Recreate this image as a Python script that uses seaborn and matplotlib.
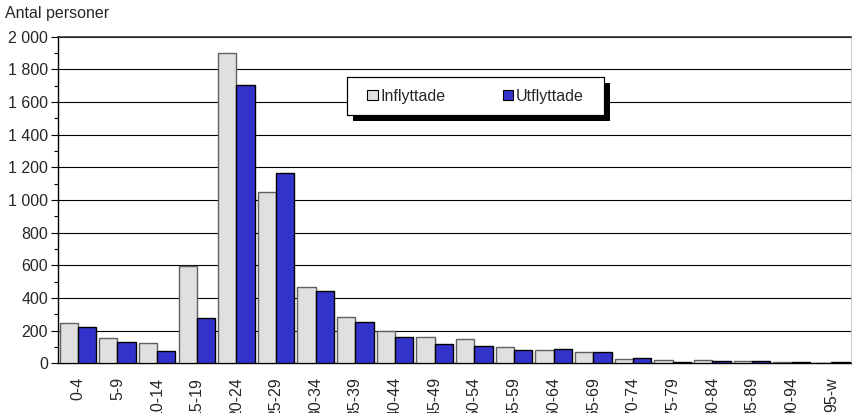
import matplotlib
matplotlib.use('Agg')
import matplotlib.pyplot as plt
import matplotlib.ticker as mticker
from matplotlib.patches import Patch, Rectangle
import pandas as pd
import seaborn as sns

# Åldersgrupper och antal in- och utflyttade
aldersgrupper = ['0-4', '5-9', '10-14', '15-19', '20-24', '25-29', '30-34', '35-39', '40-44',
                 '45-49', '50-54', '55-59', '60-64', '65-69', '70-74', '75-79', '80-84',
                 '85-89', '90-94', '95-w']
inflyttade = [249, 153, 126, 598, 1898, 1047, 469, 285, 200, 159, 149, 98, 79, 67, 28, 20, 18, 13, 10, 2]
utflyttade = [220, 129, 73, 279, 1702, 1163, 441, 251, 159, 116, 106, 84, 86, 69, 34, 8, 15, 16, 10, 6]

df = pd.DataFrame({
    'alder': aldersgrupper * 2,
    'antal': inflyttade + utflyttade,
    'typ': ['Inflyttade'] * len(aldersgrupper) + ['Utflyttade'] * len(aldersgrupper),
})

sns.set_style('white')
plt.rcParams['font.family'] = ['Liberation Sans', 'DejaVu Sans']
fs = 11.5

farger = {'Inflyttade': '#E0E0E0', 'Utflyttade': '#3333CC'}
kanter = {'Inflyttade': '#606060', 'Utflyttade': '#000000'}

fig = plt.figure(figsize=(8.52, 4.13), dpi=100)
ax = fig.add_axes([0.068, 0.1203, 0.931, 0.7908])

sns.barplot(data=df, x='alder', y='antal', hue='typ', palette=farger, width=0.92,
            saturation=1, legend=False, ax=ax, zorder=3)

for container, typ in zip(ax.containers, ['Inflyttade', 'Utflyttade']):
    for bar in container:
        bar.set_edgecolor(kanter[typ])
        bar.set_linewidth(1.0)

ax.set_ylim(0, 2000)
ax.set_xlim(-0.5, len(aldersgrupper) - 0.5)
ax.yaxis.set_major_locator(mticker.MultipleLocator(200))
ax.yaxis.set_minor_locator(mticker.MultipleLocator(100))
ax.yaxis.set_major_formatter(mticker.FuncFormatter(lambda v, p: f'{int(v):,}'.replace(',', ' ')))
ax.grid(axis='y', color='black', linewidth=0.8, zorder=0)
ax.set_axisbelow(True)

ax.tick_params(axis='y', which='major', left=True, length=5, width=0.8, color='black',
               labelsize=fs, pad=2)
ax.tick_params(axis='y', which='minor', left=True, length=3, width=0.8, color='black')
ax.tick_params(axis='x', length=0, labelsize=fs, pad=10)
plt.setp(ax.get_xticklabels(), rotation=90, va='top')

ax.set_xlabel('')
ax.set_ylabel('')

for s in ['left', 'bottom']:
    ax.spines[s].set_color('black')
    ax.spines[s].set_linewidth(1.0)
ax.spines['top'].set_color('#333333')
ax.spines['top'].set_linewidth(1.2)
ax.spines['right'].set_color('#cccccc')
ax.spines['right'].set_linewidth(0.8)

# Teckenförklaring med egen ram och skugga
W, H = 852, 413
bx, by, bw, bh = 347 / W, 1 - 115 / H, 257 / W, 38 / H
fig.patches.append(Rectangle((bx + 6 / W, by - 6 / H), bw, bh, transform=fig.transFigure,
                             facecolor='black', edgecolor='none', zorder=4))
fig.patches.append(Rectangle((bx, by), bw, bh, transform=fig.transFigure,
                             facecolor='white', edgecolor='black', linewidth=0.9, zorder=5))

handles = [Patch(facecolor=farger[t], edgecolor='black', linewidth=0.8, label=t) for t in farger]
leg = fig.legend(handles=handles, ncol=2, loc='center',
                 bbox_to_anchor=(bx + bw / 2, by + bh / 2), bbox_transform=fig.transFigure,
                 frameon=False, handlelength=0.65, handleheight=0.65, handletextpad=0.15,
                 columnspacing=3.6, fontsize=fs, borderaxespad=0, borderpad=0)
leg.set_zorder(6)

fig.text(0.006, 0.985, 'Antal personer', ha='left', va='top', fontsize=fs)

fig.savefig('out.png', dpi=100)
